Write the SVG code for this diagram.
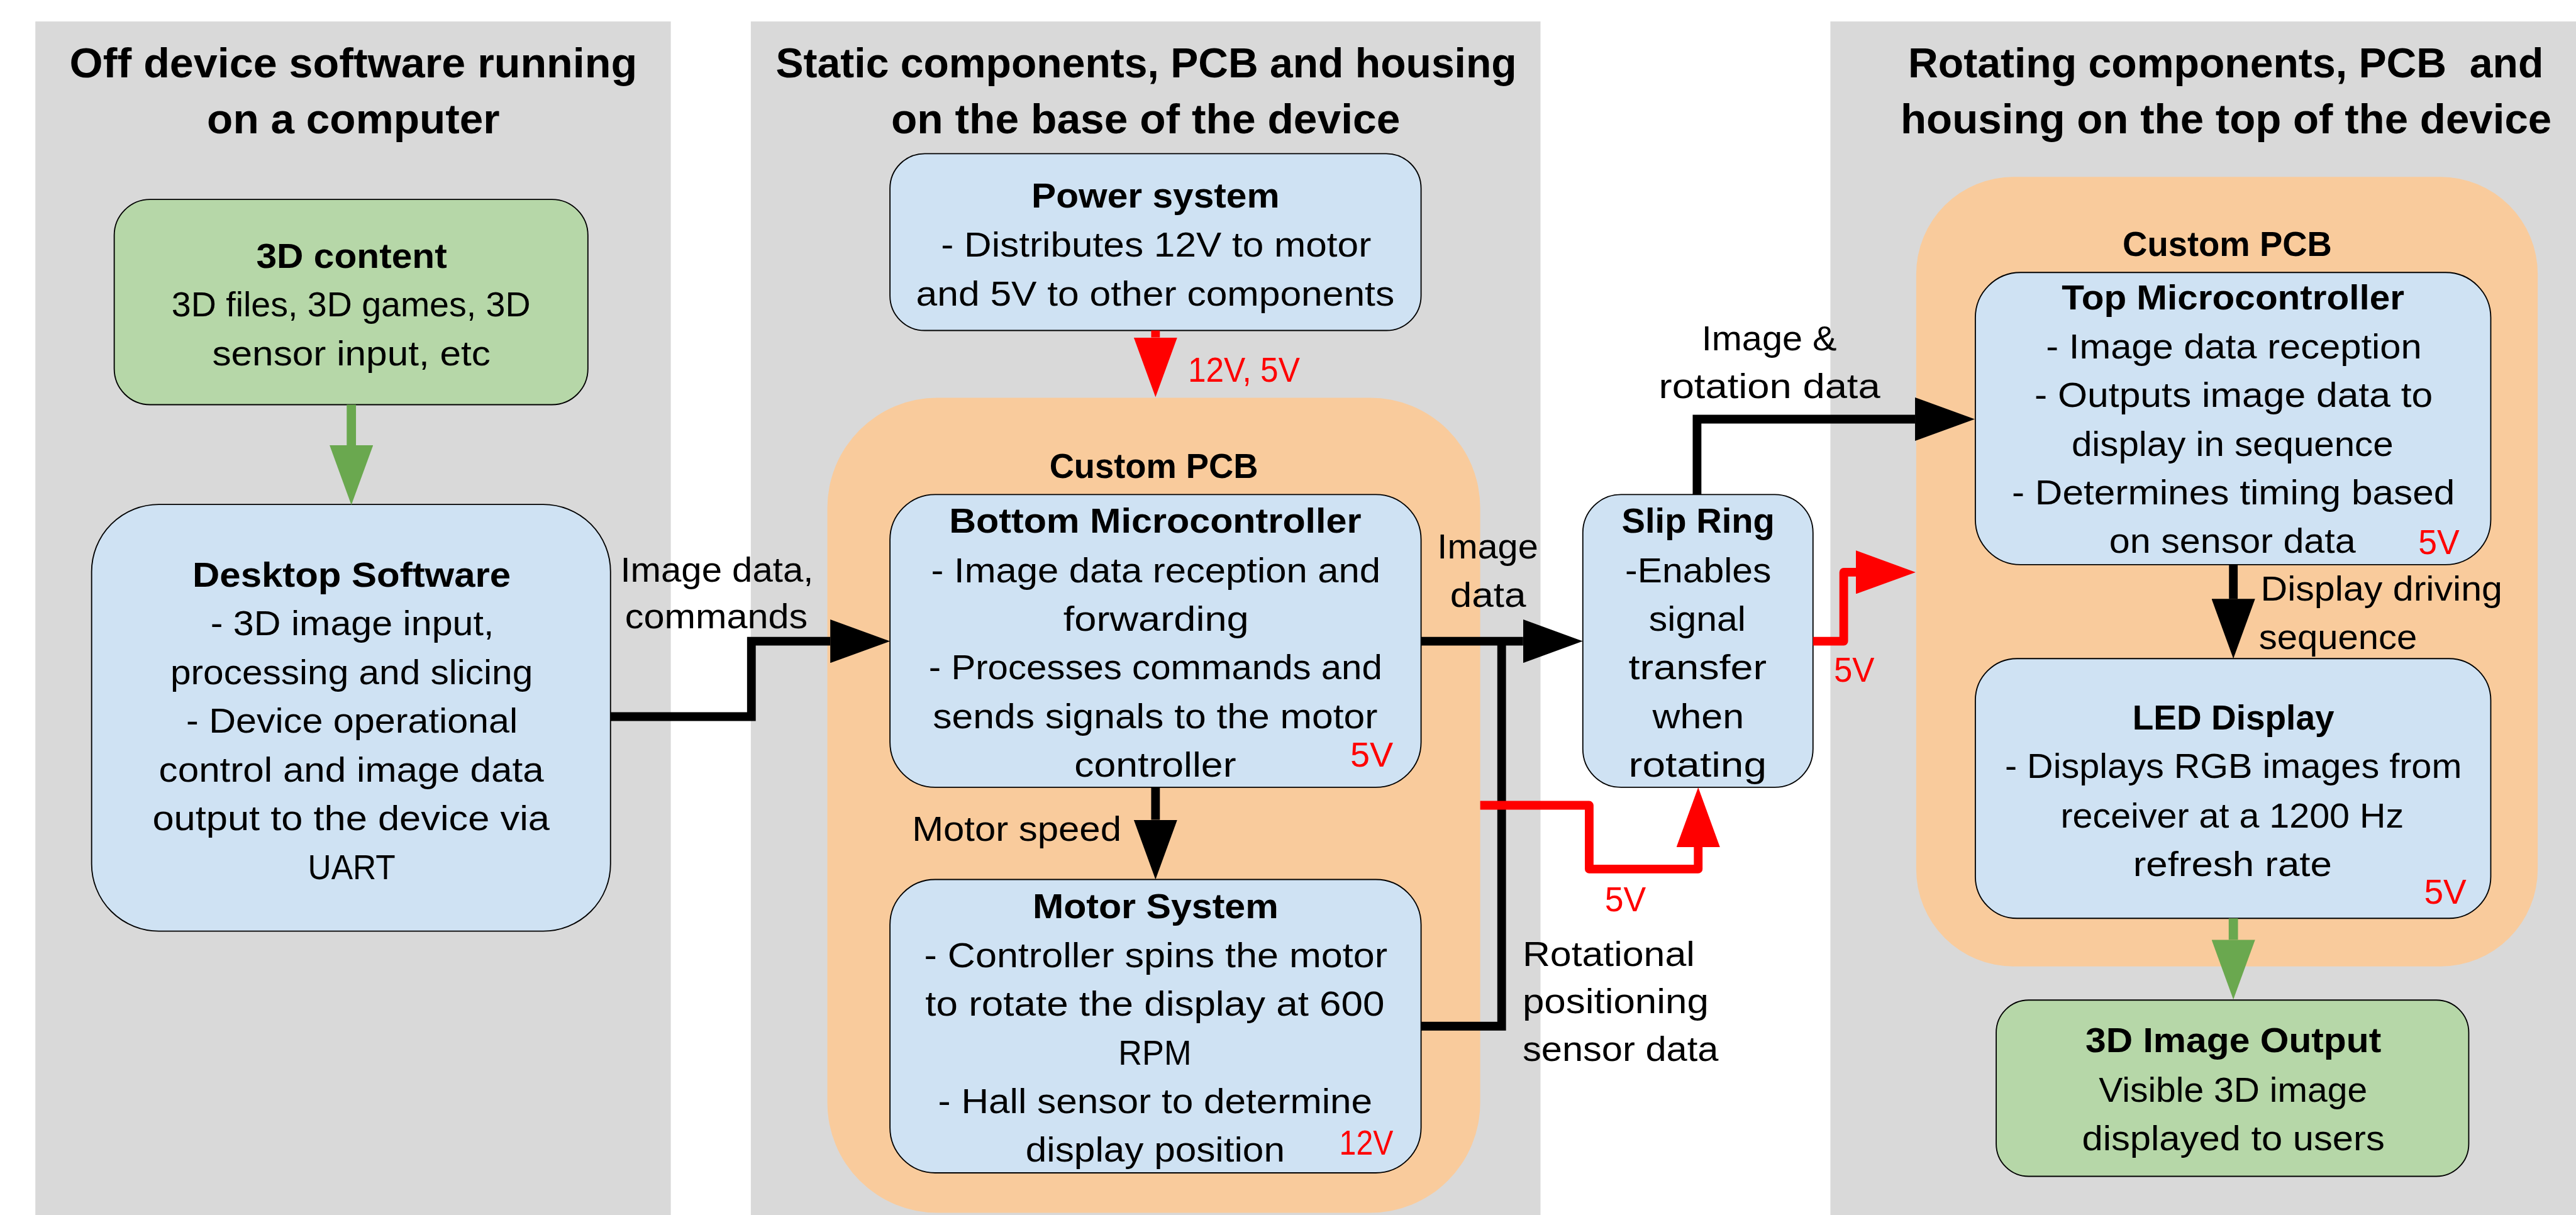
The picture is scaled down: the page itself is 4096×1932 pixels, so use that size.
<svg xmlns="http://www.w3.org/2000/svg" width="4096" height="1932" viewBox="0 0 4096 1932">
<defs>
<style>
.panel{fill:#d9d9d9}
.pcb{fill:#f9cb9c}
.blue{fill:#cfe2f3;stroke:#000;stroke-width:2}
.green{fill:#b6d7a8;stroke:#000;stroke-width:2}
text{font-family:"Liberation Sans",Arial,sans-serif;font-size:60px;fill:#000}
.title{font-size:73px;font-weight:bold}
.b{font-weight:bold}
.red{fill:#ff0000}
.lk{fill:none;stroke:#000;stroke-width:15}
.lr{fill:none;stroke:#ff0000;stroke-width:15;stroke-linejoin:round}
.lg{fill:none;stroke:#6aa84f;stroke-width:16}
</style>
<marker id="ak" markerUnits="userSpaceOnUse" markerWidth="103" markerHeight="75" refX="0" refY="37.5" orient="auto"><path d="M0,0 L103,37.5 L0,75 Z" fill="#000"/></marker>
<marker id="ar" markerUnits="userSpaceOnUse" markerWidth="103" markerHeight="75" refX="0" refY="37.5" orient="auto"><path d="M0,0 L103,37.5 L0,75 Z" fill="#ff0000"/></marker>
<marker id="ag" markerUnits="userSpaceOnUse" markerWidth="103" markerHeight="75" refX="0" refY="37.5" orient="auto"><path d="M0,0 L103,37.5 L0,75 Z" fill="#6aa84f"/></marker>
</defs>
<rect width="4096" height="1932" fill="#fff"/>
<g transform="scale(0.9219)">
<g id="panel-offdevice">
<rect class="panel" x="61" y="37" width="1096" height="2059"/>
<text class="title" x="120" y="133" textLength="979" lengthAdjust="spacingAndGlyphs">Off device software running</text>
<text class="title" x="357" y="230" textLength="505" lengthAdjust="spacingAndGlyphs">on a computer</text>
</g>
<g id="panel-static">
<rect class="panel" x="1295" y="37" width="1362" height="2059"/>
<text class="title" x="1338" y="133" textLength="1278" lengthAdjust="spacingAndGlyphs">Static components, PCB and housing</text>
<text class="title" x="1537" y="230" textLength="878" lengthAdjust="spacingAndGlyphs">on the base of the device</text>
</g>
<g id="panel-rotating">
<rect class="panel" x="3157" y="37" width="1286" height="2059"/>
<text class="title" x="3291" y="133" textLength="1096" lengthAdjust="spacingAndGlyphs" xml:space="preserve" style="white-space:pre">Rotating components, PCB  and</text>
<text class="title" x="3278" y="230" textLength="1123" lengthAdjust="spacingAndGlyphs">housing on the top of the device</text>
</g>
<g id="pcb-bottom">
<rect class="pcb" x="1427" y="686" width="1126" height="1406" rx="190" ry="190"/>
<text class="b" x="1810" y="824" textLength="360" lengthAdjust="spacingAndGlyphs">Custom PCB</text>
</g>
<g id="pcb-top">
<rect class="pcb" x="3305" y="305" width="1072" height="1362" rx="168" ry="168"/>
<text class="b" x="3661" y="441" textLength="361" lengthAdjust="spacingAndGlyphs">Custom PCB</text>
</g>
<g id="content3d">
<rect class="green" x="197" y="344" width="817" height="354" rx="62" ry="62"/>
<text class="b" x="442" y="462" textLength="329" lengthAdjust="spacingAndGlyphs">3D content</text>
<text x="296" y="546" textLength="619" lengthAdjust="spacingAndGlyphs">3D files, 3D games, 3D</text>
<text x="366" y="630" textLength="480" lengthAdjust="spacingAndGlyphs">sensor input, etc</text>
</g>
<g id="desktop">
<rect class="blue" x="158" y="870" width="895" height="736" rx="116" ry="116"/>
<text class="b" x="332" y="1012" textLength="549" lengthAdjust="spacingAndGlyphs">Desktop Software</text>
<text x="363" y="1096" textLength="489" lengthAdjust="spacingAndGlyphs">- 3D image input,</text>
<text x="294" y="1180" textLength="625" lengthAdjust="spacingAndGlyphs">processing and slicing</text>
<text x="321" y="1264" textLength="572" lengthAdjust="spacingAndGlyphs">- Device operational</text>
<text x="274" y="1348" textLength="664" lengthAdjust="spacingAndGlyphs">control and image data</text>
<text x="263" y="1432" textLength="685" lengthAdjust="spacingAndGlyphs">output to the device via</text>
<text x="531" y="1516" textLength="151" lengthAdjust="spacingAndGlyphs">UART</text>
</g>
<g id="power">
<rect class="blue" x="1535" y="265" width="916" height="305" rx="60" ry="60"/>
<text class="b" x="1779" y="358" textLength="428" lengthAdjust="spacingAndGlyphs">Power system</text>
<text x="1623" y="443" textLength="742" lengthAdjust="spacingAndGlyphs">- Distributes 12V to motor</text>
<text x="1580" y="527" textLength="825" lengthAdjust="spacingAndGlyphs">and 5V to other components</text>
</g>
<g id="bottom-mcu">
<rect class="blue" x="1535" y="853" width="916" height="505" rx="78" ry="78"/>
<text class="b" x="1637" y="919" textLength="711" lengthAdjust="spacingAndGlyphs">Bottom Microcontroller</text>
<text x="1606" y="1004" textLength="775" lengthAdjust="spacingAndGlyphs">- Image data reception and</text>
<text x="1834" y="1088" textLength="320" lengthAdjust="spacingAndGlyphs">forwarding</text>
<text x="1602" y="1172" textLength="782" lengthAdjust="spacingAndGlyphs">- Processes commands and</text>
<text x="1609" y="1256" textLength="767" lengthAdjust="spacingAndGlyphs">sends signals to the motor</text>
<text x="1853" y="1340" textLength="279" lengthAdjust="spacingAndGlyphs">controller</text>
<text class="red" x="2329" y="1322" textLength="74" lengthAdjust="spacingAndGlyphs">5V</text>
</g>
<g id="motor">
<rect class="blue" x="1535" y="1517" width="916" height="506" rx="78" ry="78"/>
<text class="b" x="1781" y="1584" textLength="424" lengthAdjust="spacingAndGlyphs">Motor System</text>
<text x="1594" y="1668" textLength="799" lengthAdjust="spacingAndGlyphs">- Controller spins the motor</text>
<text x="1596" y="1752" textLength="792" lengthAdjust="spacingAndGlyphs">to rotate the display at 600</text>
<text x="1929" y="1836" textLength="126" lengthAdjust="spacingAndGlyphs">RPM</text>
<text x="1618" y="1920" textLength="749" lengthAdjust="spacingAndGlyphs">- Hall sensor to determine</text>
<text x="1769" y="2004" textLength="447" lengthAdjust="spacingAndGlyphs">display position</text>
<text class="red" x="2310" y="1992" textLength="93" lengthAdjust="spacingAndGlyphs">12V</text>
</g>
<g id="slipring">
<rect class="blue" x="2730" y="853" width="397" height="505" rx="66" ry="66"/>
<text class="b" x="2797" y="919" textLength="264" lengthAdjust="spacingAndGlyphs">Slip Ring</text>
<text x="2803" y="1004" textLength="252" lengthAdjust="spacingAndGlyphs">-Enables</text>
<text x="2844" y="1088" textLength="167" lengthAdjust="spacingAndGlyphs">signal</text>
<text x="2809" y="1172" textLength="238" lengthAdjust="spacingAndGlyphs">transfer</text>
<text x="2850" y="1256" textLength="158" lengthAdjust="spacingAndGlyphs">when</text>
<text x="2809" y="1340" textLength="238" lengthAdjust="spacingAndGlyphs">rotating</text>
</g>
<g id="top-mcu">
<rect class="blue" x="3407" y="470" width="889" height="504" rx="78" ry="78"/>
<text class="b" x="3556" y="534" textLength="591" lengthAdjust="spacingAndGlyphs">Top Microcontroller</text>
<text x="3529" y="618" textLength="648" lengthAdjust="spacingAndGlyphs">- Image data reception</text>
<text x="3509" y="702" textLength="687" lengthAdjust="spacingAndGlyphs">- Outputs image data to</text>
<text x="3573" y="786" textLength="555" lengthAdjust="spacingAndGlyphs">display in sequence</text>
<text x="3470" y="870" textLength="764" lengthAdjust="spacingAndGlyphs">- Determines timing based</text>
<text x="3638" y="954" textLength="425" lengthAdjust="spacingAndGlyphs">on sensor data</text>
<text class="red" x="4171" y="956" textLength="71" lengthAdjust="spacingAndGlyphs">5V</text>
</g>
<g id="led">
<rect class="blue" x="3407" y="1136" width="889" height="448" rx="72" ry="72"/>
<text class="b" x="3678" y="1258" textLength="348" lengthAdjust="spacingAndGlyphs">LED Display</text>
<text x="3458" y="1342" textLength="788" lengthAdjust="spacingAndGlyphs">- Displays RGB images from</text>
<text x="3554" y="1427" textLength="592" lengthAdjust="spacingAndGlyphs">receiver at a 1200 Hz</text>
<text x="3679" y="1511" textLength="343" lengthAdjust="spacingAndGlyphs">refresh rate</text>
<text class="red" x="4181" y="1559" textLength="73" lengthAdjust="spacingAndGlyphs">5V</text>
</g>
<g id="output3d">
<rect class="green" x="3443" y="1725" width="815" height="304" rx="56" ry="56"/>
<text class="b" x="3597" y="1815" textLength="510" lengthAdjust="spacingAndGlyphs">3D Image Output</text>
<text x="3620" y="1900" textLength="463" lengthAdjust="spacingAndGlyphs">Visible 3D image</text>
<text x="3591" y="1984" textLength="522" lengthAdjust="spacingAndGlyphs">displayed to users</text>
</g>
<g id="connectors">
<path class="lg" d="M606,698 V768" marker-end="url(#ag)"/>
<path class="lk" d="M1053,1236 H1296 V1106 H1432" marker-end="url(#ak)"/>
<path class="lr" d="M1993,570 V582" marker-end="url(#ar)"/>
<path class="lk" d="M1993,1358 V1414" marker-end="url(#ak)"/>
<path class="lk" d="M2451,1106 H2627" marker-end="url(#ak)"/>
<path class="lk" d="M2451,1770 H2590 V1106"/>
<path class="lr" d="M2553,1389 H2741 V1499 H2929 V1461" marker-end="url(#ar)"/>
<path class="lk" d="M2927,853 V723 H3303" marker-end="url(#ak)"/>
<path class="lr" d="M3127,1106 H3180 V987 H3201" marker-end="url(#ar)"/>
<path class="lk" d="M3852,974 V1033" marker-end="url(#ak)"/>
<path class="lg" d="M3852,1584 V1621" marker-end="url(#ag)"/>
<text x="1070" y="1003" textLength="333" lengthAdjust="spacingAndGlyphs">Image data,</text>
<text x="1078" y="1084" textLength="315" lengthAdjust="spacingAndGlyphs">commands</text>
<text class="red" x="2049" y="658" textLength="193" lengthAdjust="spacingAndGlyphs">12V, 5V</text>
<text x="1573" y="1450" textLength="361" lengthAdjust="spacingAndGlyphs">Motor speed</text>
<text x="2479" y="963" textLength="174" lengthAdjust="spacingAndGlyphs">Image</text>
<text x="2501" y="1047" textLength="131" lengthAdjust="spacingAndGlyphs">data</text>
<text x="2935" y="604" textLength="233" lengthAdjust="spacingAndGlyphs">Image &amp;</text>
<text x="2861" y="687" textLength="382" lengthAdjust="spacingAndGlyphs">rotation data</text>
<text class="red" x="3163" y="1176" textLength="70" lengthAdjust="spacingAndGlyphs">5V</text>
<text class="red" x="2768" y="1572" textLength="71" lengthAdjust="spacingAndGlyphs">5V</text>
<text x="2626" y="1666" textLength="297" lengthAdjust="spacingAndGlyphs">Rotational</text>
<text x="2626" y="1748" textLength="321" lengthAdjust="spacingAndGlyphs">positioning</text>
<text x="2626" y="1830" textLength="338" lengthAdjust="spacingAndGlyphs">sensor data</text>
<text x="3899" y="1036" textLength="417" lengthAdjust="spacingAndGlyphs">Display driving</text>
<text x="3896" y="1119" textLength="273" lengthAdjust="spacingAndGlyphs">sequence</text>
</g>
</g>
</svg>
